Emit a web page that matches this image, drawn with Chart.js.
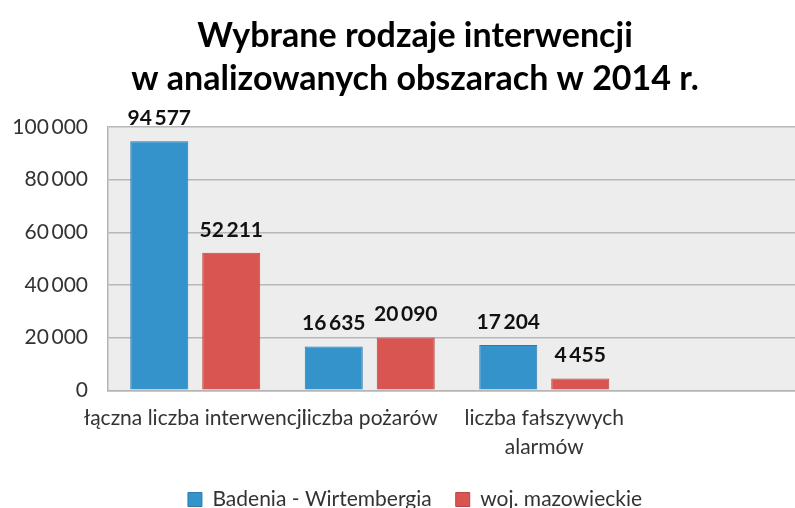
<!doctype html>
<html lang="pl">
<head>
    <meta charset="utf-8">
    <title>Wybrane rodzaje interwencji</title>
    <script src="https://cdn.jsdelivr.net/npm/chart.js"></script>
    <style>
        html, body { margin: 0; padding: 0; background: #fff; overflow: hidden; }
        .wrap { width: 830px; height: 520px; }
    </style>
</head>
<body>
    <div class="wrap">
        <canvas id="chart" width="830" height="520"></canvas>
    </div>
    <script>
        // data
        const categories = ['łączna liczba interwencji', 'liczba pożarów', ['liczba fałszywych', 'alarmów'], ''];
        const badenia = [94577, 16635, 17204, null];
        const mazowieckie = [52211, 20090, 4455, null];
        const yTicks = [0, 20000, 40000, 60000, 80000, 100000];

        const fmt = (v) => String(v).replace(/\B(?=(\d{3})+(?!\d))/g, '\u2009');

        // grey plot background
        const plotBg = {
            id: 'plotBg',
            beforeDraw(chart) {
                const a = chart.chartArea, ctx = chart.ctx;
                ctx.save();
                ctx.fillStyle = '#ecedec';
                ctx.fillRect(a.left, a.top, a.right - a.left, a.bottom - a.top);
                ctx.restore();
            }
        };

        // value labels above bars
        const valueLabels = {
            id: 'valueLabels',
            afterDatasetsDraw(chart) {
                const ctx = chart.ctx;
                ctx.save();
                ctx.font = 'bold 21px Lato';
                ctx.fillStyle = '#111';
                ctx.textAlign = 'center';
                ctx.textBaseline = 'middle';
                chart.data.datasets.forEach((ds, i) => {
                    chart.getDatasetMeta(i).data.forEach((bar, j) => {
                        const v = ds.data[j];
                        if (v == null) return;
                        ctx.fillText(fmt(v), bar.x, bar.y - 23);
                    });
                });
                ctx.restore();
            }
        };

        const ctx = document.getElementById('chart').getContext('2d');
        new Chart(ctx, {
            type: 'bar',
            data: {
                labels: categories,
                datasets: [{
                    label: 'Badenia - Wirtembergia',
                    data: badenia,
                    backgroundColor: '#3593cc',
                    borderColor: '#2b7bb0',
                    borderWidth: 1,
                    categoryPercentage: 0.825,
                    barPercentage: 0.806
                }, {
                    label: 'woj. mazowieckie',
                    data: mazowieckie,
                    backgroundColor: '#d95551',
                    borderColor: '#bb4542',
                    borderWidth: 1,
                    categoryPercentage: 0.825,
                    barPercentage: 0.806
                }]
            },
            options: {
                responsive: false,
                animation: false,
                scales: {
                    x: {
                        afterFit(scale) { scale.height -= 10; },
                        grid: { display: false, drawTicks: false },
                        border: { display: true, color: '#b5b5b5', width: 1.5 },
                        ticks: {
                            color: '#333',
                            font: { family: 'Lato', size: 21, lineHeight: 1.35 },
                            padding: 14,
                            maxRotation: 0,
                            minRotation: 0,
                            autoSkip: false
                        }
                    },
                    y: {
                        min: 0,
                        max: 100000,
                        afterFit(scale) { scale.width = 108; },
                        afterBuildTicks(scale) { scale.ticks = yTicks.map(v => ({ value: v })); },
                        grid: { color: '#b8b8b8', lineWidth: 1.5, drawTicks: false },
                        border: { display: true, color: '#b5b5b5', width: 1.5 },
                        ticks: {
                            color: '#333',
                            font: { family: 'Lato', size: 21 },
                            padding: 20,
                            callback: (v) => fmt(v)
                        }
                    },
                    // empty spacer on the right so the plot ends where the original does
                    yRight: {
                        type: 'linear',
                        position: 'right',
                        afterFit(scale) { scale.width = 24; },
                        grid: { display: false, drawTicks: false },
                        border: { display: false },
                        ticks: { display: false }
                    }
                },
                plugins: {
                    title: {
                        display: true,
                        text: ['Wybrane rodzaje interwencji', 'w analizowanych obszarach w 2014 r.'],
                        color: '#000',
                        font: { family: 'Lato', size: 34, weight: 'bold', lineHeight: 1.25 },
                        padding: { top: 15, bottom: 27 }
                    },
                    legend: {
                        position: 'bottom',
                        labels: {
                            color: '#333',
                            font: { family: 'Lato', size: 21 },
                            boxWidth: 14,
                            boxHeight: 14,
                            padding: 24
                        }
                    },
                    tooltip: { enabled: false }
                }
            },
            plugins: [plotBg, valueLabels]
        });
    </script>
</body>
</html>
